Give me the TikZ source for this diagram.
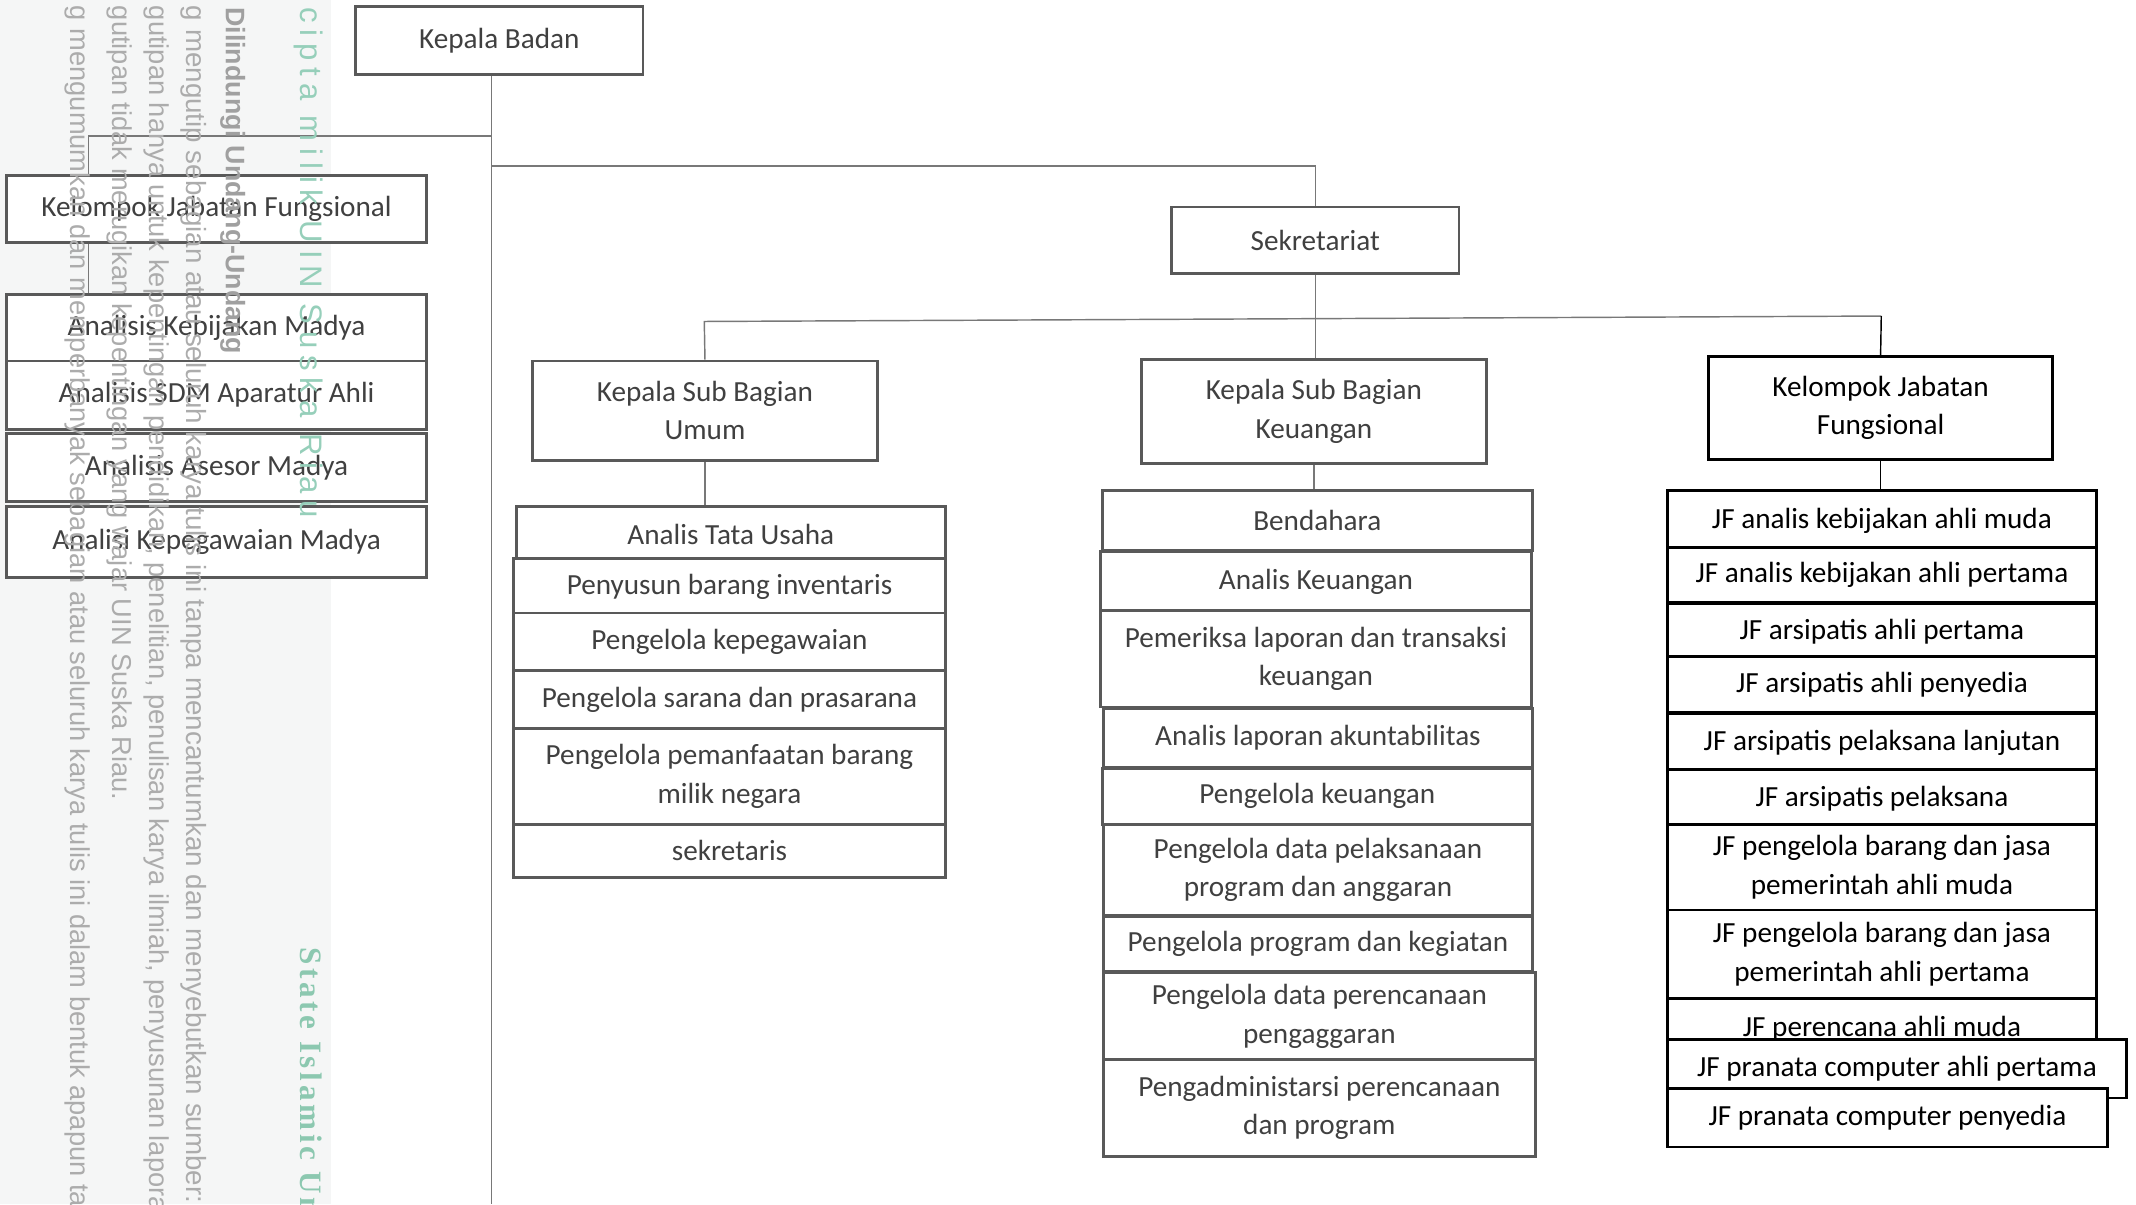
\documentclass[tikz,border=0pt]{standalone}
\usepackage{fontspec}
\setmainfont{Carlito}
\newfontfamily\wmfont{Liberation Sans}
\newfontfamily\wmspaced[LetterSpace=22]{Liberation Sans}
\newfontfamily\wmserif[LetterSpace=12]{Liberation Serif}
\usetikzlibrary{calc}
\definecolor{boxgray}{RGB}{89,89,89}
\definecolor{txtgray}{RGB}{64,64,64}
\definecolor{linegray}{RGB}{120,120,120}
\definecolor{wmgray}{RGB}{172,172,172}
\definecolor{wmdark}{RGB}{160,160,160}
\definecolor{wmteal}{RGB}{150,207,186}
\definecolor{wmtealb}{RGB}{140,200,176}
\definecolor{stripbg}{RGB}{245,246,246}
\tikzset{
  orgbox/.style={draw=boxgray, line width=1.2pt, fill=white, text=txtgray, inner sep=0pt, align=center, font=\fontsize{12.2}{16}\selectfont},
  jfbox/.style={orgbox, draw=black, text=black},
  conn/.style={draw=linegray, line width=0.6pt},
  connk/.style={draw=black, line width=0.6pt},
  wm/.style={rotate=-90, anchor=mid west, inner sep=0pt, text=wmgray, font=\wmfont\fontsize{11.4}{14}\selectfont},
}
\newcommand\orgnode[7]{%
  \node[#1, minimum width={(#5-#3)*0.02cm}, minimum height={(#6-#4)*0.02cm}] (#2) at ({(#3+#5)/2},{(#4+#6)/2}) {#7};}
\begin{document}
\begin{tikzpicture}[x=0.02cm,y=-0.02cm]
\useasboundingbox (0,0) rectangle (1568,884);
\fill[stripbg] (0,0) rectangle (243,884);

% boxes
\orgnode{orgbox}{kb}{261}{5}{472}{55}{Kepala Badan}
\orgnode{orgbox}{kjfL}{5}{129}{313}{178}{Kelompok Jabatan Fungsional}
\orgnode{orgbox}{akm}{5}{216}{313}{265}{Analisis Kebijakan Madya}
\orgnode{orgbox}{asdm}{5}{265}{313}{315}{Analisis SDM Aparatur Ahli}
\orgnode{orgbox}{aam}{5}{318}{313}{368}{Analisis Asesor Madya}
\orgnode{orgbox}{akp}{5}{372}{313}{424}{Analisi Kepegawaian Madya}

\orgnode{orgbox}{sek}{860}{152}{1071}{201}{Sekretariat}
\orgnode{orgbox}{ksbU}{391}{265}{644}{338}{Kepala Sub Bagian\\Umum}
\orgnode{orgbox}{ksbK}{838}{264}{1091}{340}{Kepala Sub Bagian\\Keuangan}
\orgnode{jfbox}{kjfR}{1254}{262}{1507}{337}{Kelompok Jabatan\\Fungsional}

\orgnode{orgbox}{atu}{379}{372}{694}{412}{Analis Tata Usaha}
\orgnode{orgbox}{pbi}{377}{410}{694}{452}{Penyusun barang inventaris}
\orgnode{orgbox}{pkp}{377}{450}{694}{492}{Pengelola kepegawaian}
\orgnode{orgbox}{psp}{377}{492}{694}{535}{Pengelola sarana dan prasarana}
\orgnode{orgbox}{ppb}{377}{535}{694}{605}{Pengelola pemanfaatan barang\\milik negara}
\orgnode{orgbox}{skr}{377}{605}{694}{644}{sekretaris}

\orgnode{orgbox}{bend}{809}{360}{1125}{404}{Bendahara}
\orgnode{orgbox}{ak}{808}{405}{1124}{450}{Analis Keuangan}
\orgnode{orgbox}{plt}{808}{448}{1124}{519}{Pemeriksa laporan dan transaksi\\keuangan}
\orgnode{orgbox}{ala}{810}{520}{1125}{563}{Analis laporan akuntabilitas}
\orgnode{orgbox}{pk}{809}{564}{1125}{605}{Pengelola keuangan}
\orgnode{orgbox}{pdp}{810}{605}{1125}{672}{Pengelola data pelaksanaan\\program dan anggaran}
\orgnode{orgbox}{ppk}{810}{673}{1125}{713}{Pengelola program dan kegiatan}
\orgnode{orgbox}{pdpp}{810}{714}{1127}{778}{Pengelola data perencanaan\\pengaggaran}
\orgnode{orgbox}{pap}{810}{778}{1127}{849}{Pengadministarsi perencanaan\\dan program}

\orgnode{jfbox}{jf1}{1224}{360}{1539}{404}{JF analis kebijakan ahli muda}
\orgnode{jfbox}{jf2}{1224}{402}{1539}{442}{JF analis kebijakan ahli pertama}
\orgnode{jfbox}{jf3}{1224}{443}{1539}{485}{JF arsipatis ahli pertama}
\orgnode{jfbox}{jf4}{1224}{482}{1539}{523}{JF arsipatis ahli penyedia}
\orgnode{jfbox}{jf5}{1224}{524}{1539}{567}{JF arsipatis pelaksana lanjutan}
\orgnode{jfbox}{jf6}{1224}{565}{1539}{607}{JF arsipatis pelaksana}
\orgnode{jfbox}{jf7}{1224}{605}{1539}{668}{JF pengelola barang dan jasa\\pemerintah ahli muda}
\orgnode{jfbox}{jf8}{1224}{668}{1539}{733}{JF pengelola barang dan jasa\\pemerintah ahli pertama}
\orgnode{jfbox}{jf9}{1224}{733}{1539}{777}{JF perencana ahli muda}
\orgnode{jfbox}{jf10}{1224}{763}{1561}{806}{JF pranata computer ahli pertama}
\orgnode{jfbox}{jf11}{1224}{799}{1547}{842}{JF pranata computer penyedia}

% connectors
\coordinate (bot) at (361,884);
\coordinate (j1) at (361,100);
\coordinate (j1b) at (65,100);
\coordinate (j2) at (361,122);
\coordinate (j3L) at (517,236);
\coordinate (j3R) at (1381,232);
\draw[conn] (kb.south -| bot) -- (bot);
\draw[conn] (j1) -- (j1b) -- (j1b |- kjfL.north);
\draw[conn] (j1b |- kjfL.south) -- (j1b |- akm.north);
\draw[conn] (j2) -| (sek.north);
\draw[conn] (sek.south) -- (sek.south |- ksbK.north);
\draw[conn] (ksbU.north) -- (j3L) -- (j3R);
\draw[connk] (j3R) -- (kjfR.north);
\draw[conn] (ksbU.south) -- (ksbU.south |- atu.north);
\draw[conn] (ksbK.south) -- (ksbK.south |- bend.north);
\draw[connk] (kjfR.south) -- (kjfR.south |- jf1.north);

% watermark
\begin{scope}
\clip (0,0) rectangle (1568,884);
\node[wm] (wmA) at (56,4) {g mengumumkan dan memperbanyak sebagian atau seluruh karya tulis ini dalam bentuk apapun tanpa};
\node[wm] (wmB) at (87,4) {gutipan tidak merugikan kepentingan yang wajar UIN Suska Riau.};
\node[wm] (wmC) at (114,4) {gutipan hanya untuk kepentingan pendidikan, penelitian, penulisan karya ilmiah, penyusunan laporan};
\node[wm, font=\wmfont\fontsize{11.6}{14}\selectfont] (wmD) at (141,4) {g mengutip sebagian atau seluruh karya tulis ini tanpa mencantumkan dan menyebutkan sumber:};
\node[wm, text=wmdark, font=\wmfont\bfseries\fontsize{11.2}{14}\selectfont] (wmE) at (170,5) {Dilindungi Undang-Undang};
\node[wm, text=wmteal, font=\wmspaced\fontsize{13}{15}\selectfont] (wmF) at (225,5) {cipta milik UIN Suska Riau};
\node[wm, text=wmtealb, font=\wmserif\bfseries\fontsize{13}{15}\selectfont] (wmG) at (225,695) {State Islamic University};
\end{scope}
\end{tikzpicture}
\end{document}
